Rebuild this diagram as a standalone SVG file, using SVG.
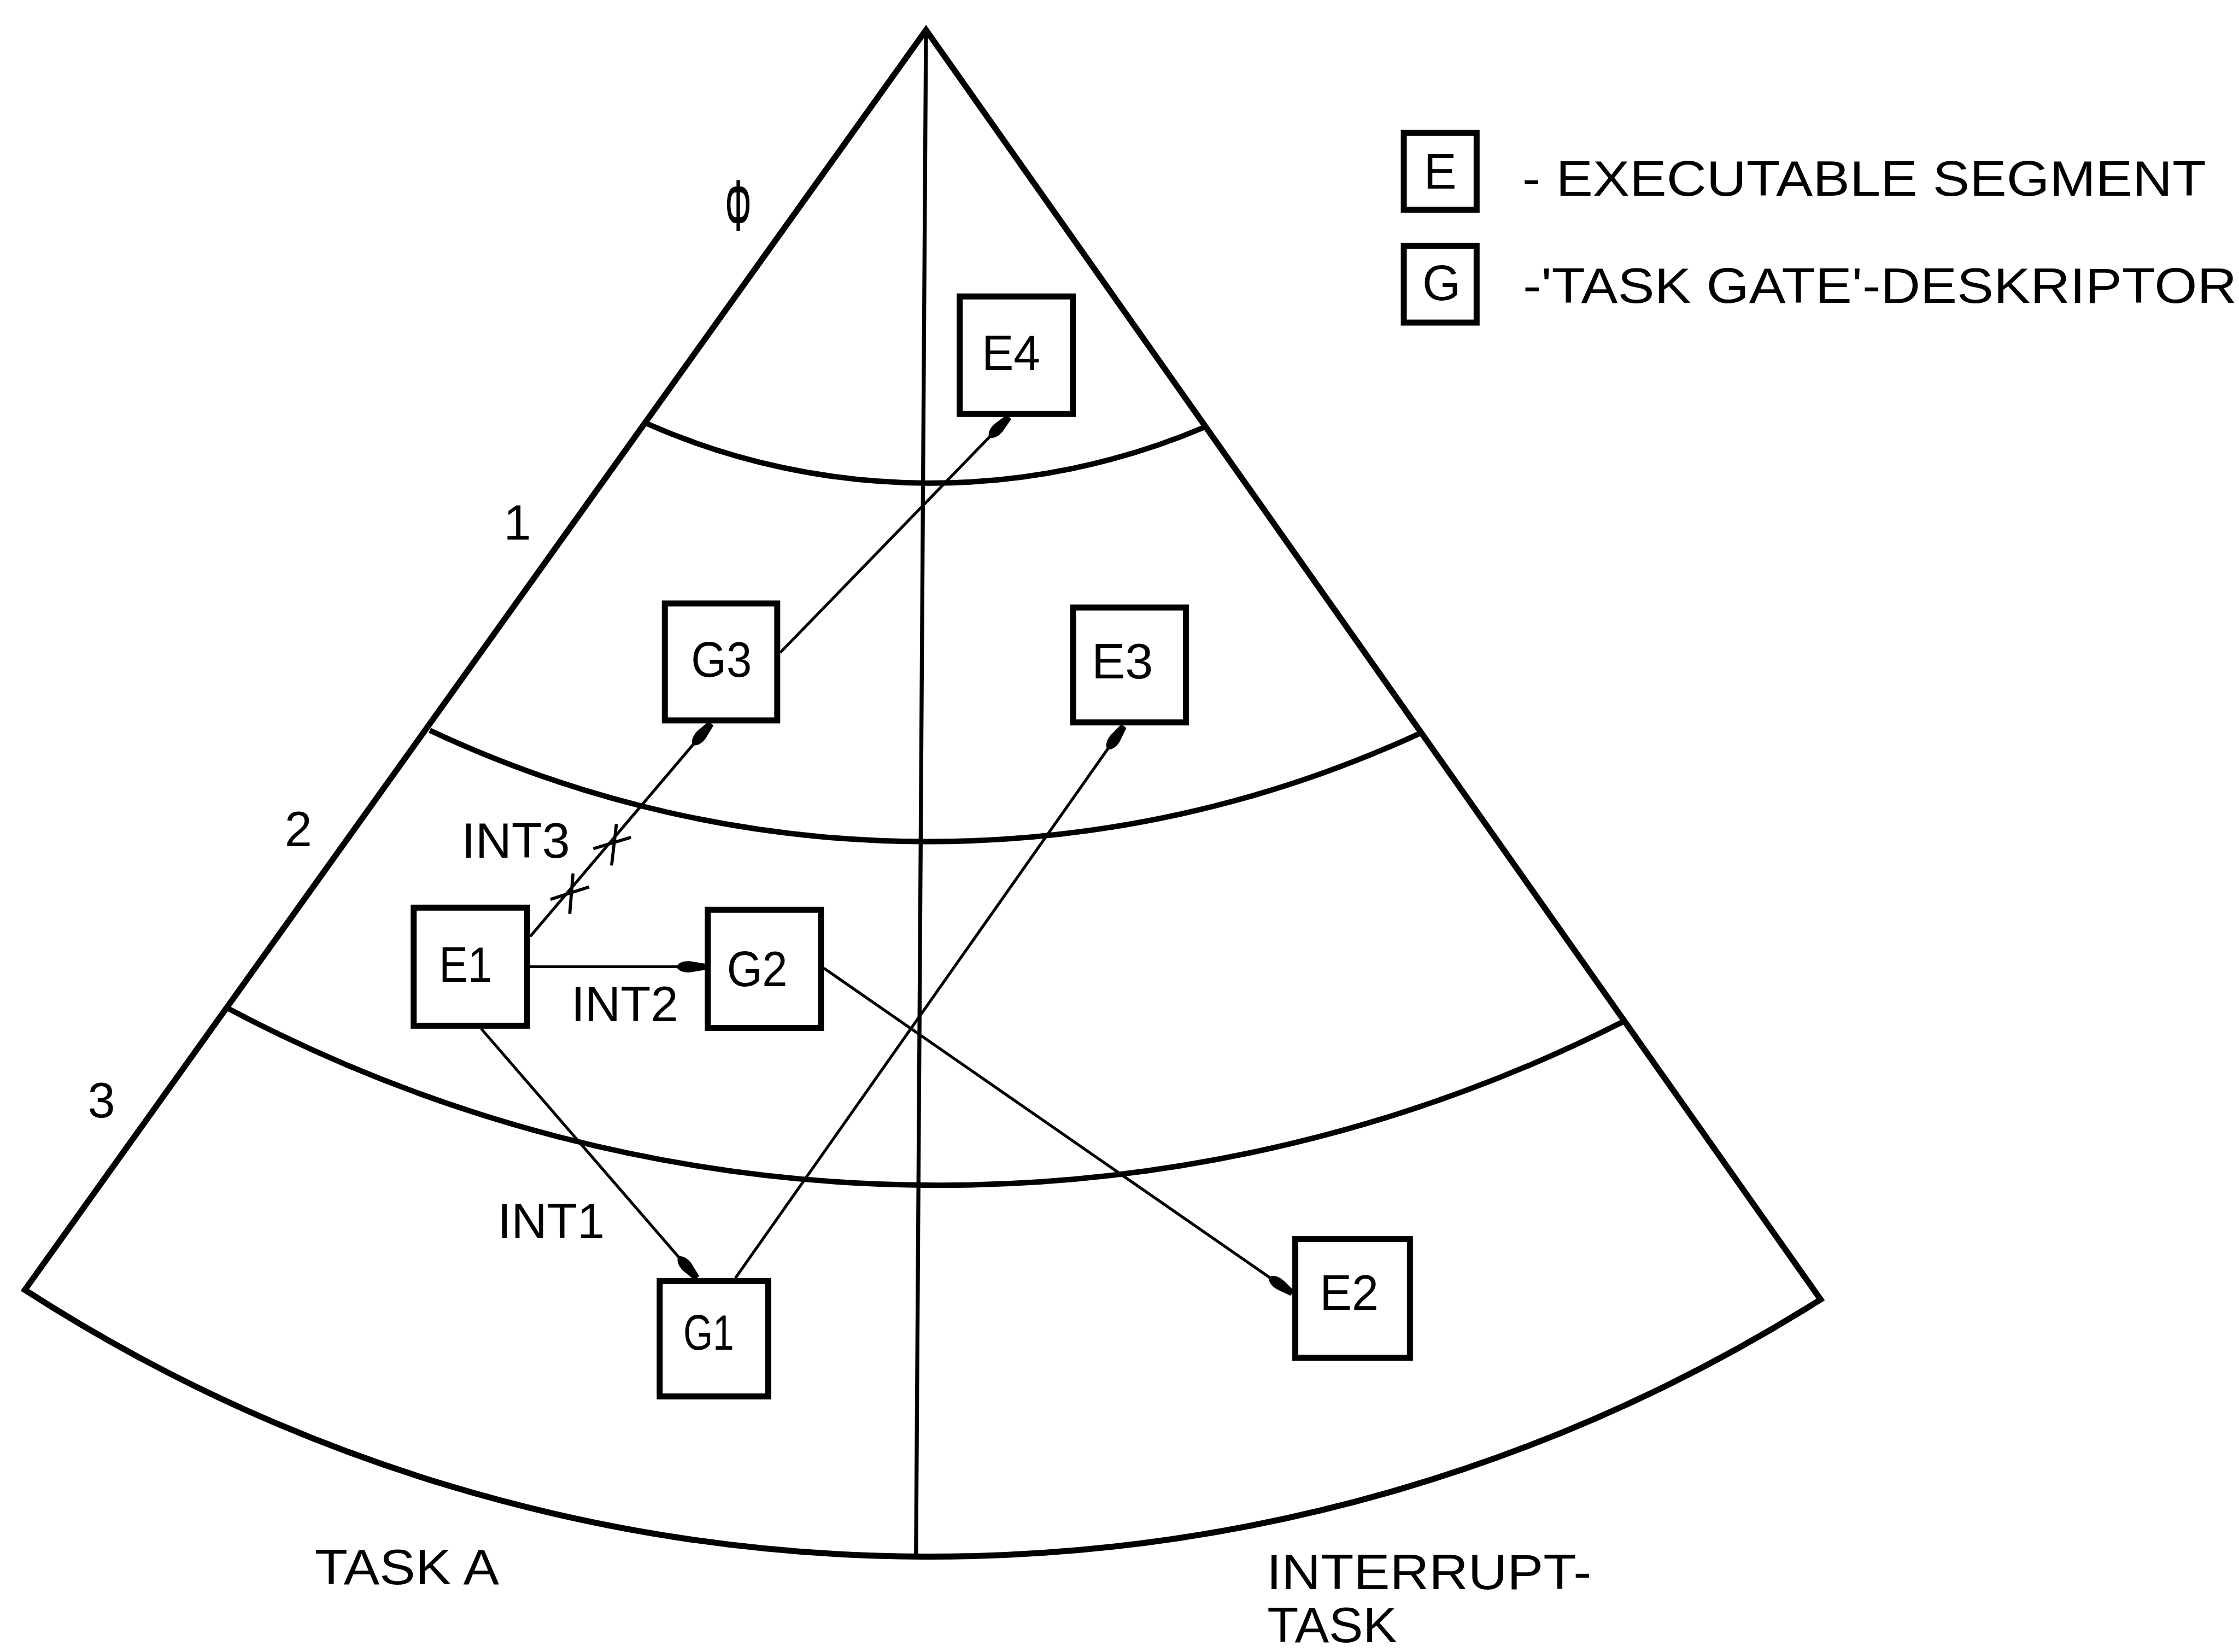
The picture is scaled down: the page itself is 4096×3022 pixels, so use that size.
<svg xmlns="http://www.w3.org/2000/svg" width="4096" height="3022" viewBox="0 0 4096 3022">
<defs>
<style>
.edge{fill:none;stroke:#000;stroke-width:4.2;stroke-linejoin:miter}
.band{fill:none;stroke:#000;stroke-width:3.8}
.axis{fill:none;stroke:#000;stroke-width:2.8}
.box{fill:#fff;stroke:#000;stroke-width:4.2}
.link{fill:none;stroke:#000;stroke-width:2}
.tick{fill:none;stroke:#000;stroke-width:2.2}
text{font-family:"Liberation Sans",Arial,sans-serif;font-size:34.5px;fill:#000}
</style>
<marker id="blob" markerUnits="userSpaceOnUse" markerWidth="24" markerHeight="12" viewBox="-22 -6 24 12" refX="0" refY="0" orient="auto">
<path d="M -20 0 C -18 -4 -12 -4.5 -8 -3.5 L 0 -2.2 L 0 2.2 L -8 3.5 C -12 4.5 -18 4 -20 0 Z" fill="#000"/>
</marker>
</defs>
<rect width="4096" height="3022" fill="#fff"/>
<g transform="scale(2.61224)">
  <!-- sector outline, privilege rings and the task divider -->
  <g id="sector">
    <path class="edge" d="M 17.4 903.3 L 648.5 21 L 1275 910 A 1169.6 1169.6 0 0 1 17.4 903.3 Z"/>
    <path class="band" d="M 453.3 296.8 A 492 492 0 0 0 844.4 298.8"/>
    <path class="band" d="M 301 511.4 A 820 820 0 0 0 994 513.7"/>
    <path class="band" d="M 160 706.3 A 1061 1061 0 0 0 1137.6 715"/>
    <path class="axis" d="M 648.5 21 L 641.5 1090"/>
  </g>

  <!-- ring numbers and section captions -->
  <g id="labels">
    <text x="508" y="161" style="font-size:50px;stroke:#000;stroke-width:0.8" textLength="18" lengthAdjust="spacingAndGlyphs">Φ</text>
    <text x="362.4" y="378" text-anchor="middle">1</text>
    <text x="208.9" y="592.5" text-anchor="middle">2</text>
    <text x="71" y="782.4" text-anchor="middle">3</text>
    <text x="220.5" y="1109.4" textLength="129" lengthAdjust="spacingAndGlyphs">TASK A</text>
    <text x="887" y="1113" textLength="227.5" lengthAdjust="spacingAndGlyphs">INTERRUPT-</text>
    <text x="887.5" y="1150" textLength="91" lengthAdjust="spacingAndGlyphs">TASK</text>
  </g>

  <!-- interrupt transfers between segments and gates -->
  <g id="connectors">
    <line class="link" x1="546.4" y1="457" x2="706.6" y2="292" marker-end="url(#blob)"/>
    <line class="link" x1="371.3" y1="655.8" x2="498" y2="506.6" marker-end="url(#blob)"/>
    <line class="link" x1="371.3" y1="677" x2="493.6" y2="677" marker-end="url(#blob)"/>
    <line class="link" x1="337" y1="720.4" x2="488" y2="895" marker-end="url(#blob)"/>
    <line class="link" x1="515" y1="895" x2="787" y2="508.5" marker-end="url(#blob)"/>
    <line class="link" x1="577" y1="678" x2="905" y2="905.6" marker-end="url(#blob)"/>
    <!-- blocked path marks on INT3 -->
    <line class="tick" x1="401.3" y1="611.6" x2="399" y2="640"/>
    <line class="tick" x1="385.5" y1="629.8" x2="412.6" y2="621.1"/>
    <line class="tick" x1="431.7" y1="577" x2="428.3" y2="606.1"/>
    <line class="tick" x1="415.5" y1="594.3" x2="441.9" y2="586.4"/>
    <text x="323.2" y="600.6" textLength="76" lengthAdjust="spacingAndGlyphs">INT3</text>
    <text x="400" y="715" textLength="75" lengthAdjust="spacingAndGlyphs">INT2</text>
    <text x="348.5" y="867" textLength="75" lengthAdjust="spacingAndGlyphs">INT1</text>
  </g>

  <g id="E4">
    <rect class="box" x="672.1" y="207.6" width="79.3" height="82.3"/>
    <text x="687.5" y="259.2" textLength="41" lengthAdjust="spacingAndGlyphs">E4</text>
  </g>
  <g id="G3">
    <rect class="box" x="465.6" y="422.6" width="78.7" height="81.9"/>
    <text x="484" y="474" textLength="42.5" lengthAdjust="spacingAndGlyphs">G3</text>
  </g>
  <g id="E3">
    <rect class="box" x="751.5" y="425.4" width="79" height="80.5"/>
    <text x="764.5" y="475" textLength="43" lengthAdjust="spacingAndGlyphs">E3</text>
  </g>
  <g id="E1">
    <rect class="box" x="289.7" y="635.6" width="79.5" height="82.7"/>
    <text x="307.5" y="687.4" textLength="37" lengthAdjust="spacingAndGlyphs">E1</text>
  </g>
  <g id="G2">
    <rect class="box" x="495.7" y="637.1" width="79.2" height="82.8"/>
    <text x="509" y="690.5" textLength="42.5" lengthAdjust="spacingAndGlyphs">G2</text>
  </g>
  <g id="G1">
    <rect class="box" x="462" y="897.1" width="76" height="80.8"/>
    <text x="478.5" y="945" textLength="35.5" lengthAdjust="spacingAndGlyphs">G1</text>
  </g>
  <g id="E2">
    <rect class="box" x="907.1" y="867.7" width="80.3" height="83.2"/>
    <text x="924.2" y="917.4" textLength="41.3" lengthAdjust="spacingAndGlyphs">E2</text>
  </g>

  <!-- key -->
  <g id="legend">
    <rect class="box" x="983.1" y="93.1" width="51" height="53.8"/>
    <text x="1008.5" y="132" text-anchor="middle">E</text>
    <text x="1066" y="137" textLength="479" lengthAdjust="spacingAndGlyphs">- EXECUTABLE SEGMENT</text>
    <rect class="box" x="983.1" y="172.1" width="51" height="53.8"/>
    <text x="1009.5" y="210" text-anchor="middle">G</text>
    <text x="1066.5" y="212" textLength="500" lengthAdjust="spacingAndGlyphs">-'TASK GATE'-DESKRIPTOR</text>
  </g>
</g>
</svg>
